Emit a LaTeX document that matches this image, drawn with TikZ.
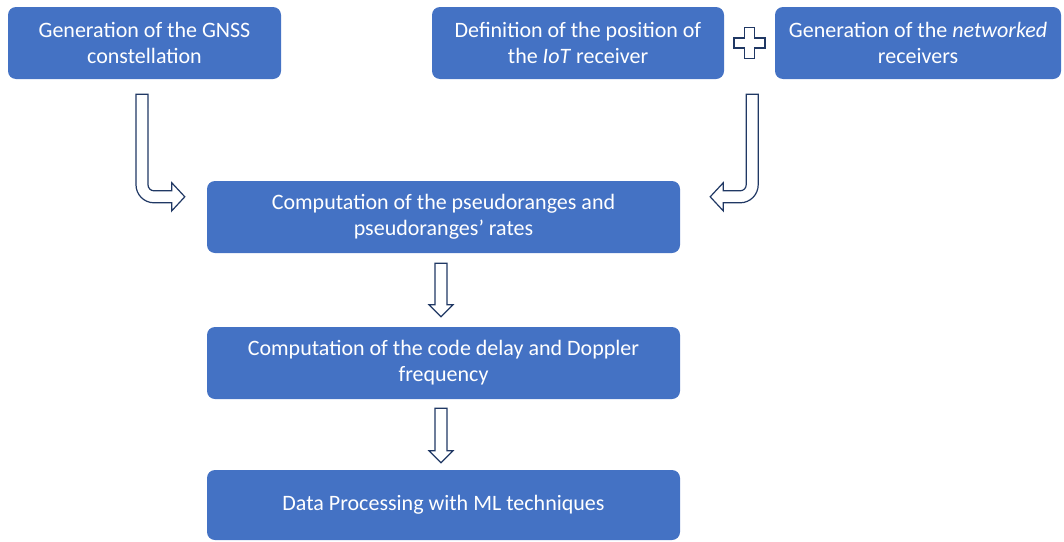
\documentclass[tikz,border=0pt]{standalone}
\usepackage{fontspec}
\setmainfont{Carlito}
\usetikzlibrary{calc}
\definecolor{boxblue}{HTML}{4472C4}
\definecolor{arrownavy}{HTML}{203864}
\tikzset{
  stage/.style={rectangle, rounded corners=8pt, fill=boxblue, draw=none,
    text=white, align=center, inner sep=0pt,
    font=\fontsize{22}{26}\selectfont, minimum height=72pt},
  blockarrow/.style={draw=arrownavy, fill=white, line width=1.2pt, line join=miter}
}
\begin{document}
\begin{tikzpicture}[x=1pt, y=-1pt]
\useasboundingbox (0,0) rectangle (1064,541);

% processing stages
\node[stage, minimum width=273pt] (b1) at (144.5,43)
  {Generation of the GNSS\\constellation};
\node[stage, minimum width=292pt] (b2) at (578,43)
  {Definition of the position of\\the \textit{IoT} receiver};
\node[stage, minimum width=286pt] (b3) at (918,43)
  {Generation of the \textit{networked}\\receivers};
\node[stage, minimum width=473pt] (b4) at (443.5,217)
  {Computation of the pseudoranges and\\pseudoranges’ rates};
\node[stage, minimum width=473pt] (b5) at (443.5,363)
  {Computation of the code delay and Doppler\\frequency};
\node[stage, minimum width=473pt, minimum height=70pt] (b6) at (443.5,505)
  {Data Processing with ML techniques};

% plus sign joining the two receiver stages
\coordinate (pc) at ($(b2.east)!0.5!(b3.west)$);
\draw[blockarrow] ($(pc)+(-5,-15.5)$) -- ($(pc)+(5,-15.5)$) -- ($(pc)+(5,-5)$)
  -- ($(pc)+(15.5,-5)$) -- ($(pc)+(15.5,5)$) -- ($(pc)+(5,5)$)
  -- ($(pc)+(5,15.5)$) -- ($(pc)+(-5,15.5)$) -- ($(pc)+(-5,5)$)
  -- ($(pc)+(-15.5,5)$) -- ($(pc)+(-15.5,-5)$) -- ($(pc)+(-5,-5)$) -- cycle;

% bent arrow: constellation -> pseudoranges
\coordinate (ls) at ($(b1.south)+(-2.5,15)$);
\coordinate (lt) at ($(b4.north west)+(-22,16)$);
\coordinate (lc) at (ls |- lt);
\draw[blockarrow] ($(ls)+(-6,0)$) -- ($(ls)+(6,0)$) -- ($(lc)+(6,-12)$)
  .. controls ($(lc)+(6,-8.7)$) and ($(lc)+(8.7,-6)$) .. ($(lc)+(12,-6)$)
  -- ($(lt)+(-13,-6)$) -- ($(lt)+(-13,-14)$) -- (lt) -- ($(lt)+(-13,14)$)
  -- ($(lt)+(-13,6)$) -- ($(lc)+(12,6)$)
  .. controls ($(lc)+(2.1,6)$) and ($(lc)+(-6,-2.1)$) .. ($(lc)+(-6,-12)$)
  -- cycle;

% bent arrow: receivers -> pseudoranges
\coordinate (rs) at ($(b2.south east)+(28,15)$);
\coordinate (rt) at ($(b4.north east)+(30,16)$);
\coordinate (rc) at (rs |- rt);
\draw[blockarrow] ($(rs)+(6,0)$) -- ($(rs)+(-6,0)$) -- ($(rc)+(-6,-12)$)
  .. controls ($(rc)+(-6,-8.7)$) and ($(rc)+(-8.7,-6)$) .. ($(rc)+(-12,-6)$)
  -- ($(rt)+(13,-6)$) -- ($(rt)+(13,-14)$) -- (rt) -- ($(rt)+(13,14)$)
  -- ($(rt)+(13,6)$) -- ($(rc)+(-12,6)$)
  .. controls ($(rc)+(-2.1,6)$) and ($(rc)+(6,-2.1)$) .. ($(rc)+(6,-12)$)
  -- cycle;

% straight arrows down the chain
\coordinate (d1s) at ($(b4.south)+(-2.5,10)$);
\coordinate (d1e) at ($(b5.north)+(-2.5,-10)$);
\draw[blockarrow] ($(d1s)+(-6,0)$) -- ($(d1s)+(6,0)$) -- ($(d1e)+(6,-12)$)
  -- ($(d1e)+(12,-12)$) -- (d1e) -- ($(d1e)+(-12,-12)$) -- ($(d1e)+(-6,-12)$) -- cycle;
\coordinate (d2s) at ($(b5.south)+(-2.5,9)$);
\coordinate (d2e) at ($(b6.north)+(-2.5,-7)$);
\draw[blockarrow] ($(d2s)+(-6,0)$) -- ($(d2s)+(6,0)$) -- ($(d2e)+(6,-12)$)
  -- ($(d2e)+(12,-12)$) -- (d2e) -- ($(d2e)+(-12,-12)$) -- ($(d2e)+(-6,-12)$) -- cycle;
\end{tikzpicture}
\end{document}
